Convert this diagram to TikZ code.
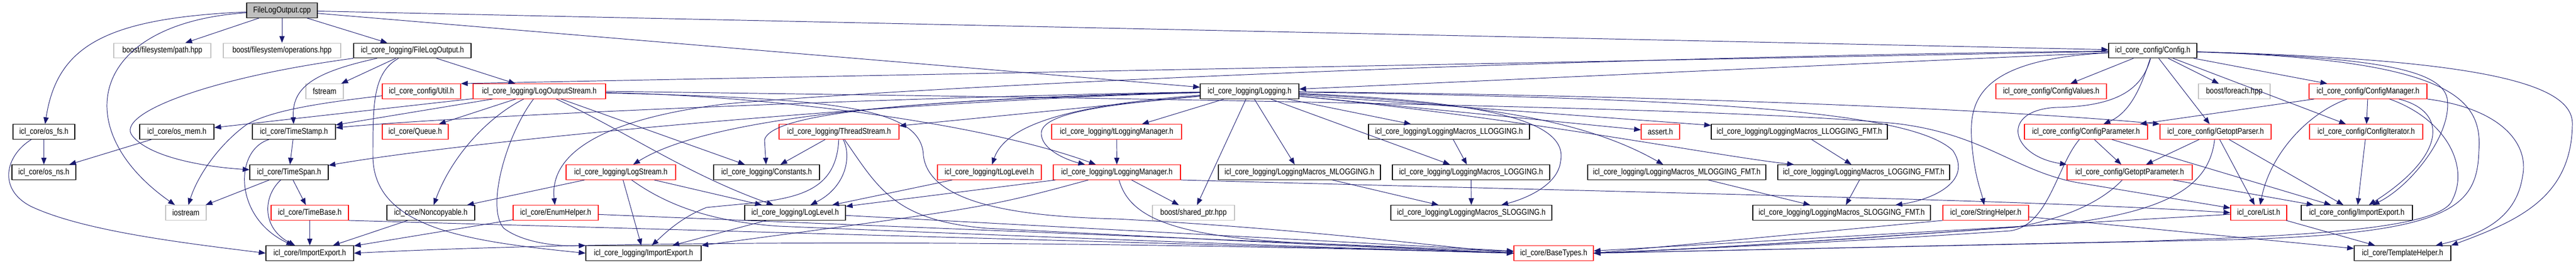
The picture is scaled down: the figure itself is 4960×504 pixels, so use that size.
\documentclass[tikz,border=0pt]{standalone}
\usepackage{fontspec}
\setmainfont{Liberation Sans}[FakeStretch=0.84]
\usetikzlibrary{arrows.meta}
\definecolor{edgeblue}{HTML}{191970}
\definecolor{sysgrey}{HTML}{BFBFBF}

\begin{document}
\begin{tikzpicture}[x=0.02cm,y=-0.02cm]
\tikzstyle{hdr} = [rectangle, draw=black, line width=0.75pt, fill=white,
minimum height=0.57cm, inner sep=1pt, font=\fontsize{9.2}{11}\selectfont]
\tikzstyle{hdr_red} = [hdr, draw=red]
\tikzstyle{hdr_sys} = [hdr, draw=sysgrey]
\tikzstyle{hdr_root} = [hdr, fill=sysgrey]
\tikzstyle{line} = [draw=edgeblue, line width=0.55pt, -{Triangle[length=0.26cm,width=0.2cm]}]
\useasboundingbox (0,0) rectangle (4960,504);
% row 1
\node [hdr_root, minimum width=2.72cm] (flo) at (543,20) {FileLogOutput.cpp};
% row 2
\node [hdr_sys, minimum width=3.74cm] (bpath) at (312.5,97.5) {boost/filesystem/path.hpp};
\node [hdr_sys, minimum width=4.52cm] (bops) at (543,97.5) {boost/filesystem/operations.hpp};
\node [hdr, minimum width=4.52cm] (floh) at (794,97.5) {icl\_core\_logging/FileLogOutput.h};
\node [hdr, minimum width=3.40cm] (cfg) at (4145,97.5) {icl\_core\_config/Config.h};
% row 3
\node [hdr_sys, minimum width=1.44cm] (fstream) at (625,176) {fstream};
\node [hdr_red, minimum width=3.02cm] (util) at (811.5,176) {icl\_core\_config/Util.h};
\node [hdr_red, minimum width=5.10cm] (los) at (1038.5,176) {icl\_core\_logging/LogOutputStream.h};
\node [hdr, minimum width=3.80cm] (lg) at (2406,176) {icl\_core\_logging/Logging.h};
\node [hdr_red, minimum width=4.26cm] (cvals) at (3949.5,176) {icl\_core\_config/ConfigValues.h};
\node [hdr_sys, minimum width=2.76cm] (foreach) at (4302,176) {boost/foreach.hpp};
\node [hdr_red, minimum width=4.54cm] (cmgr) at (4559.5,176) {icl\_core\_config/ConfigManager.h};
% row 4
\node [hdr, minimum width=2.38cm] (osfs) at (84.5,254) {icl\_core/os\_fs.h};
\node [hdr, minimum width=2.86cm] (osmem) at (340.5,254) {icl\_core/os\_mem.h};
\node [hdr, minimum width=3.20cm] (tstamp) at (566,254) {icl\_core/TimeStamp.h};
\node [hdr_red, minimum width=2.54cm] (queue) at (799.5,254) {icl\_core/Queue.h};
\node [hdr_red, minimum width=4.62cm] (tstream) at (1615.5,254) {icl\_core\_logging/ThreadStream.h};
\node [hdr_red, minimum width=5.00cm] (tlmgr) at (2150,254) {icl\_core\_logging/tLoggingManager.h};
\node [hdr, minimum width=6.20cm] (llog) at (2790,254) {icl\_core\_logging/LoggingMacros\_LLOGGING.h};
\node [hdr_red, minimum width=1.48cm] (assert) at (3197,254) {assert.h};
\node [hdr, minimum width=6.78cm] (llogfmt) at (3464.5,254) {icl\_core\_logging/LoggingMacros\_LLOGGING\_FMT.h};
\node [hdr_red, minimum width=4.74cm] (cparam) at (4016.5,254) {icl\_core\_config/ConfigParameter.h};
\node [hdr_red, minimum width=4.28cm] (gparser) at (4266,254) {icl\_core\_config/GetoptParser.h};
\node [hdr_red, minimum width=4.36cm] (citer) at (4556,254) {icl\_core\_config/ConfigIterator.h};
% row 5
\node [hdr, minimum width=2.46cm] (osns) at (84.5,332) {icl\_core/os\_ns.h};
\node [hdr, minimum width=3.02cm] (tspan) at (556.5,332) {icl\_core/TimeSpan.h};
\node [hdr_red, minimum width=4.22cm] (lstream) at (1195.5,332) {icl\_core\_logging/LogStream.h};
\node [hdr, minimum width=4.08cm] (consts) at (1476,332) {icl\_core\_logging/Constants.h};
\node [hdr_red, minimum width=4.00cm] (tloglvl) at (1905,332) {icl\_core\_logging/tLogLevel.h};
\node [hdr_red, minimum width=4.90cm] (lmgr) at (2150.5,332) {icl\_core\_logging/LoggingManager.h};
\node [hdr, minimum width=6.24cm] (mlog) at (2502,332) {icl\_core\_logging/LoggingMacros\_MLOGGING.h};
\node [hdr, minimum width=6.06cm] (logm) at (2832.5,332) {icl\_core\_logging/LoggingMacros\_LOGGING.h};
\node [hdr, minimum width=6.86cm] (mlogfmt) at (3228.5,332) {icl\_core\_logging/LoggingMacros\_MLOGGING\_FMT.h};
\node [hdr, minimum width=6.62cm] (logfmt) at (3588.5,332) {icl\_core\_logging/LoggingMacros\_LOGGING\_FMT.h};
\node [hdr_red, minimum width=4.82cm] (gparam) at (4100.5,332) {icl\_core\_config/GetoptParameter.h};
% row 6
\node [hdr_sys, minimum width=1.56cm] (iostream) at (358,410) {iostream};
\node [hdr_red, minimum width=2.98cm] (tbase) at (596.5,410) {icl\_core/TimeBase.h};
\node [hdr, minimum width=3.38cm] (noncopy) at (829.5,410) {icl\_core/Noncopyable.h};
\node [hdr_red, minimum width=3.28cm] (enumh) at (1070,410) {icl\_core/EnumHelper.h};
\node [hdr, minimum width=3.88cm] (loglvl) at (1531,410) {icl\_core\_logging/LogLevel.h};
\node [hdr_sys, minimum width=3.16cm] (sharedptr) at (2298,410) {boost/shared\_ptr.hpp};
\node [hdr, minimum width=6.20cm] (slog) at (2833,410) {icl\_core\_logging/LoggingMacros\_SLOGGING.h};
\node [hdr, minimum width=6.84cm] (slogfmt) at (3546,410) {icl\_core\_logging/LoggingMacros\_SLOGGING\_FMT.h};
\node [hdr_red, minimum width=3.30cm] (strh) at (3823.5,410) {icl\_core/StringHelper.h};
\node [hdr_red, minimum width=2.16cm] (list) at (4349,410) {icl\_core/List.h};
\node [hdr, minimum width=4.28cm] (cimpexp) at (4538,410) {icl\_core\_config/ImportExport.h};
% row 7
\node [hdr, minimum width=3.38cm] (impexp) at (596.5,488) {icl\_core/ImportExport.h};
\node [hdr, minimum width=4.44cm] (limpexp) at (1239,488) {icl\_core\_logging/ImportExport.h};
\node [hdr_red, minimum width=3.06cm] (basetypes) at (2991.5,488) {icl\_core/BaseTypes.h};
\node [hdr, minimum width=3.72cm] (tmplh) at (4626,488) {icl\_core/TemplateHelper.h};

\tikzstyle{every path}=[line]
% FileLogOutput.cpp
\path (flo) .. controls (200,35) and (110,90) .. (osfs);
\path (flo) .. controls (170,45) and (130,250) .. (iostream);
\path (flo) -- (bpath);
\path (flo) -- (bops);
\path (flo) -- (floh);
\path (flo) -- (cfg);
\path (flo) -- (lg);
% FileLogOutput.h
\path (floh) -- (fstream);
\path (floh) .. controls (600,140) and (562,170) .. (tstamp);
\path (floh.south west) .. controls (400,150) and (220,220) .. (255,262) .. controls (290,305) and (400,322) .. (tspan);
\path (floh) -- (los);
\path (floh) .. controls (718,140) and (718,200) .. (718,300) .. controls (718,440) and (900,465) .. (limpexp.west);
% Config.h
\path (cfg) -- (util.north east);
\path (cfg) -- (lg);
\path (cfg) .. controls (3000,110) and (1800,165) .. (1400,200) .. controls (1150,230) and (1058,300) .. (enumh);
\path (cfg) -- (cvals);
\path (cfg) -- (foreach);
\path (cfg) -- (cmgr);
\path (cfg) -- (gparser);
\path (cfg) -- (citer);
\path (cfg) .. controls (4125,160) and (4105,215) .. (cparam);
\path (cfg) .. controls (4125,170) and (4080,205) .. (3960,207) .. controls (3850,212) and (3870,300) .. (gparam.north west);
\path (cfg) .. controls (3800,115) and (3790,200) .. (3797,280) .. controls (3802,340) and (3815,370) .. (strh);
\path (cfg) .. controls (4550,110) and (4700,130) .. (4712,190) .. controls (4722,260) and (4640,360) .. (cimpexp);
\path (cfg) .. controls (4720,115) and (4780,190) .. (4773,290) .. controls (4770,400) and (4720,450) .. (4300,462) -- (basetypes.east);
\path (cfg) .. controls (4800,115) and (4955,165) .. (4953,240) .. controls (4951,380) and (4850,425) .. (tmplh.north east);
% Util.h
\path (util) .. controls (600,200) and (520,215) .. (475,240) .. controls (420,280) and (380,340) .. (iostream);
% LogOutputStream.h
\path (los) -- (osmem);
\path (los) -- (tstamp);
\path (los) -- (queue);
\path (los) .. controls (940,225) and (870,300) .. (noncopy);
\path (los) .. controls (975,260) and (935,400) .. (970,440) .. controls (1010,470) and (1080,475) .. (limpexp.north west);
\path (los) .. controls (1200,250) and (1320,335) .. (loglvl);
\path (los) -- (consts);
\path (los) .. controls (1500,185) and (1900,240) .. (lmgr);
\path (los.east) .. controls (2200,190) and (3300,205) .. (3650,238) .. controls (3820,258) and (3880,330) .. (4000,352) -- (list);
\path (los) .. controls (1600,190) and (1775,205) .. (1778,300) .. controls (1790,400) and (1990,418) .. (2150,422) .. controls (2500,440) and (2800,478) .. (basetypes.west);
% Logging.h
\path (lg) -- (tstream);
\path (lg) .. controls (2100,200) and (1940,230) .. (tloglvl);
\path (lg) .. controls (2150,200) and (2010,215) .. (2005,255) .. controls (2003,290) and (2060,310) .. (lmgr);
\path (lg) -- (tlmgr);
\path (lg) -- (sharedptr);
\path (lg) -- (mlog);
\path (lg) -- (logm);
\path (lg) -- (llog);
\path (lg) .. controls (2850,195) and (3020,230) .. (3005,310) .. controls (3000,360) and (2930,385) .. (slog);
\path (lg) -- (assert);
\path (lg) -- (llogfmt);
\path (lg) .. controls (2850,200) and (3050,230) .. (mlogfmt);
\path (lg) .. controls (2950,230) and (3300,300) .. (logfmt);
\path (lg) .. controls (3300,190) and (3680,215) .. (3760,290) .. controls (3800,350) and (3720,385) .. (slogfmt);
\path (lg) .. controls (3300,185) and (3900,215) .. (gparser.north west);
\path (lg) .. controls (1800,185) and (900,222) .. (tstamp);
\path (lg) .. controls (1700,195) and (900,272) .. (tspan);
\path (lg) .. controls (1700,190) and (1350,235) .. (lstream);
\path (lg) .. controls (1850,190) and (1485,210) .. (1472,270) -- (consts);
% ThreadStream.h
\path (tstream) -- (consts);
\path (tstream) .. controls (1640,300) and (1630,360) .. (loglvl);
\path (tstream) .. controls (1610,390) and (1500,385) .. (1360,400) .. controls (1310,420) and (1280,450) .. (limpexp);
\path (tstream) .. controls (1690,360) and (1720,425) .. (1900,440) .. controls (2400,465) and (2700,480) .. (basetypes.west);
% logging managers and levels
\path (tlmgr) -- (lmgr);
\path (tloglvl) -- (loglvl);
\path (lmgr) -- (loglvl);
\path (lmgr) .. controls (1900,400) .. (limpexp.north east);
\path (lmgr) -- (sharedptr);
\path (lmgr) .. controls (2175,420) and (2260,455) .. (2500,468) -- (basetypes.west);
\path (lmgr.south east) .. controls (3300,375) and (3900,385) .. (list.west);
% logging macros
\path (llog) -- (logm);
\path (logm) -- (slog);
\path (mlog) -- (slog);
\path (llogfmt) -- (logfmt);
\path (mlogfmt) -- (slogfmt);
\path (logfmt) -- (slogfmt);
% ConfigManager.h
\path (cmgr) -- (cparam);
\path (cmgr) .. controls (4440,220) and (4370,300) .. (list);
\path (cmgr) -- (citer);
\path (cmgr) .. controls (4715,215) and (4710,300) .. (cimpexp);
\path (cmgr) .. controls (4710,230) and (4755,320) .. (4722,385) .. controls (4700,445) and (4400,455) .. (4130,465) -- (basetypes.east);
\path (cmgr) .. controls (4820,210) and (4870,280) .. (4857,340) .. controls (4845,420) and (4780,452) .. (tmplh);
% GetoptParser.h
\path (gparser) -- (gparam);
\path (gparser) -- (list);
\path (gparser) -- (cimpexp);
\path (gparser) .. controls (4255,345) and (4200,400) .. (4000,428) .. controls (3600,460) and (3300,478) .. (basetypes.east);
% ConfigParameter.h
\path (cparam) -- (gparam);
\path (cparam) -- (cimpexp);
\path (cparam) .. controls (3960,320) and (3945,435) .. (3870,445) .. controls (3500,470) and (3200,482) .. (basetypes.east);
% GetoptParameter.h
\path (gparam) -- (cimpexp);
\path (gparam) .. controls (4050,385) and (3985,420) .. (3880,438) .. controls (3500,465) and (3200,484) .. (basetypes.east);
% StringHelper.h, List.h, ConfigIterator.h
\path (strh.south west) -- (basetypes.east);
\path (strh) -- (tmplh);
\path (list) -- (basetypes);
\path (list) -- (tmplh);
\path (citer) -- (cimpexp);
% LogStream.h
\path (lstream) -- (noncopy);
\path (lstream) -- (limpexp);
\path (lstream) -- (loglvl);
\path (lstream) .. controls (1290,400) and (1380,428) .. (1500,436) .. controls (2200,465) and (2700,482) .. (basetypes.west);
% EnumHelper.h, LogLevel.h, TimeBase.h
\path (enumh) -- (impexp);
\path (enumh) -- (basetypes);
\path (loglvl) -- (limpexp);
\path (loglvl) -- (basetypes);
\path (tbase) -- (impexp);
\path (tbase.south east) -- (basetypes.west);
% TimeStamp.h, TimeSpan.h
\path (tstamp) -- (tspan);
\path (tstamp) .. controls (450,290) and (450,420) .. (impexp);
\path (tspan) -- (iostream);
\path (tspan) .. controls (505,380) and (505,440) .. (impexp);
\path (tspan) -- (tbase);
% os headers
\path (osfs) -- (osns);
\path (osfs) .. controls (10,300) and (-5,365) .. (60,398) .. controls (160,445) and (350,468) .. (impexp.west);
\path (osmem) -- (osns);
\path (noncopy) -- (impexp);
% BaseTypes.h
\path (basetypes.west) .. controls (2000,462) and (1200,462) .. (impexp.east);
\end{tikzpicture}
\end{document}
